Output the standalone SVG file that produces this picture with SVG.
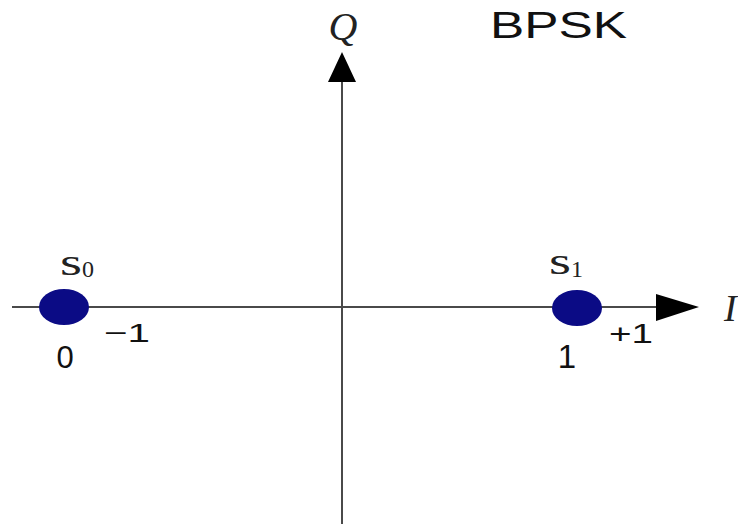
<svg xmlns="http://www.w3.org/2000/svg" width="738" height="529" viewBox="0 0 738 529">
<defs>
<style>
.axis{stroke:#4a4a4a;stroke-width:2;fill:none}
.dot{fill:#0b0b85}
.sans{font-family:"Liberation Sans",Arial,sans-serif;fill:#111}
.serif{font-family:"Liberation Serif","Times New Roman",serif;fill:#222}
</style>
</defs>
<rect width="738" height="529" fill="#ffffff"/>
<g id="connectors">
<line class="axis" x1="12" y1="307" x2="660" y2="307"/>
<polygon points="656,294 699,307 656,321" fill="#000"/>
<line class="axis" x1="342" y1="524" x2="342" y2="78"/>
<polygon points="328,82 342,52 356,82" fill="#000"/>
</g>
<g id="label-Q"><text class="serif" x="343" y="40" font-size="40" font-style="italic" text-anchor="middle">Q</text></g>
<g id="label-I"><text class="serif" x="724" y="321" font-size="38" font-style="italic">I</text></g>
<g id="title"><text class="sans" x="490" y="38" font-size="36" textLength="137" lengthAdjust="spacingAndGlyphs">BPSK</text></g>
<g id="s0">
<ellipse class="dot" cx="64" cy="307" rx="25" ry="18"/>
<text class="serif" x="60" y="275" font-size="38" textLength="22" lengthAdjust="spacingAndGlyphs">s</text>
<text class="serif" x="82" y="277" font-size="24">0</text>
<text class="sans" x="65" y="368" font-size="31" text-anchor="middle">0</text>
<text class="sans" x="104" y="342" font-size="26" textLength="46" lengthAdjust="spacingAndGlyphs">−1</text>
</g>
<g id="s1">
<ellipse class="dot" cx="577" cy="308" rx="25" ry="18"/>
<text class="serif" x="549" y="274" font-size="38" textLength="22" lengthAdjust="spacingAndGlyphs">s</text>
<text class="serif" x="571" y="277" font-size="24">1</text>
<text class="sans" x="567" y="368" font-size="33" text-anchor="middle">1</text>
<text class="sans" x="609" y="343" font-size="27" textLength="44" lengthAdjust="spacingAndGlyphs">+1</text>
</g>
</svg>
